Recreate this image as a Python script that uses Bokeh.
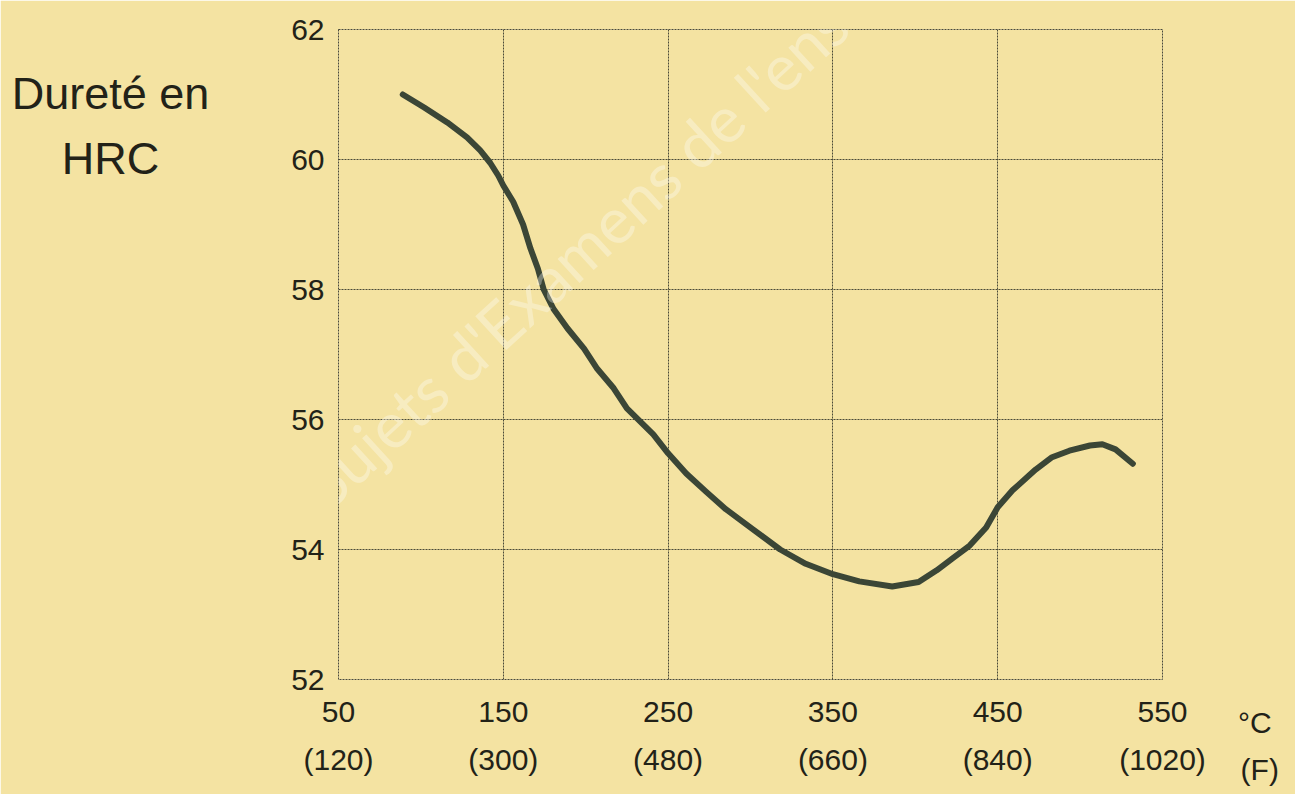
import re
from bokeh.plotting import figure
from bokeh.models import Range1d, FixedTicker, LinearAxis, Label
from bokeh.embed import file_html
from bokeh.resources import INLINE

# ---- data ----
temp_c = [89, 102, 116, 128, 136, 142, 147, 150, 156, 162, 166.5, 171, 174.5, 180.5, 189, 199,
          207, 217, 225, 241, 250, 261, 273, 285, 301.5, 318, 333.5, 350, 366, 386, 402, 413,
          423, 433, 443, 450, 459, 473, 483, 493.5, 506, 513.5, 521.5, 532]
hrc = [61.0, 60.8, 60.57, 60.34, 60.14, 59.95, 59.75, 59.6, 59.35, 59.0, 58.63, 58.32, 58.0, 57.7,
       57.4, 57.09, 56.78, 56.48, 56.17, 55.77, 55.48, 55.17, 54.89, 54.62, 54.31, 54.0, 53.78,
       53.62, 53.51, 53.43, 53.5, 53.68, 53.87, 54.06, 54.34, 54.65, 54.91, 55.23, 55.42, 55.52,
       55.6, 55.62, 55.54, 55.32]

x_ticks_c = [50, 150, 250, 350, 450, 550]
x_ticks_f = ["(120)", "(300)", "(480)", "(660)", "(840)", "(1020)"]
y_ticks = [52, 54, 56, 58, 60, 62]

BG = "#f4e3a2"
INK = "#222218"
FONT = "Liberation Sans"
GRID = "#4a4a38"

p = figure(width=1295, height=794, output_backend="svg", toolbar_location=None,
           x_range=Range1d(50, 550), y_range=Range1d(52, 62),
           x_axis_location=None, y_axis_location=None,
           min_border_left=338, min_border_right=133, min_border_top=29, min_border_bottom=115)
p.background_fill_color = BG
p.border_fill_color = BG
p.outline_line_color = GRID
p.outline_line_dash = "2 1"
p.outline_line_width = 1

# y axis
yax = LinearAxis(ticker=FixedTicker(ticks=y_ticks))
yax.axis_line_color = None
yax.major_tick_line_color = None
yax.minor_tick_line_color = None
yax.major_label_standoff = 8
yax.major_label_text_font = FONT
yax.major_label_text_font_size = "30px"
yax.major_label_text_color = INK
p.add_layout(yax, "left")

# x axis: Celsius
xax = LinearAxis(ticker=FixedTicker(ticks=x_ticks_c))
xax.axis_line_color = None
xax.major_tick_line_color = None
xax.minor_tick_line_color = None
xax.major_label_standoff = 16
xax.major_label_text_font = FONT
xax.major_label_text_font_size = "30px"
xax.major_label_text_color = INK
p.add_layout(xax, "below")

# x axis: Fahrenheit
xax2 = LinearAxis(ticker=FixedTicker(ticks=x_ticks_c))
xax2.major_label_overrides = {c: f for c, f in zip(x_ticks_c, x_ticks_f)}
xax2.axis_line_color = None
xax2.major_tick_line_color = None
xax2.minor_tick_line_color = None
xax2.major_label_standoff = 12
xax2.major_label_text_font = FONT
xax2.major_label_text_font_size = "30px"
xax2.major_label_text_color = INK
p.add_layout(xax2, "below")

# grid
p.xgrid.ticker = FixedTicker(ticks=x_ticks_c)
p.ygrid.ticker = FixedTicker(ticks=y_ticks)
for g in (p.xgrid[0], p.ygrid[0]):
    g.grid_line_color = GRID
    g.grid_line_dash = "2 1"
    g.grid_line_width = 1

# curve
p.line(temp_c, hrc, line_color="#3b4636", line_width=6, line_cap="round", line_join="round")

# watermark (faint, inside the frame)
wm = Label(x=-433, y=-188, x_units="screen", y_units="screen",
           text="Base Nationale des Sujets d'Examens de l'enseignement professionnel",
           text_font="Lato", text_font_size="64px", text_color="white", text_alpha=0.33,
           angle=42.5, angle_units="deg", text_align="left", text_baseline="alphabetic")
p.add_layout(wm)

# texts outside the frame, placed in side panels (data units through the plot's scales);
# the panels are chosen only so that their summed widths stay inside the borders
def lab(text, x, y, size, side, baseline="alphabetic"):
    l = Label(x=x, y=y, x_units="data", y_units="data", text=text,
              text_font=FONT, text_font_size=size, text_color=INK,
              text_align="center", text_baseline=baseline)
    p.add_layout(l, side)
    return l

lab("Dureté en", -88.3, 61.02, "45px", "left")
lab("HRC", -88.3, 60.01, "45px", "right")
lab("°C", 606, 51.34, "30px", "left", baseline="middle")
lab("(F)", 609, 50.62, "30px", "left", baseline="middle")

html = file_html(p, INLINE)
html = re.sub(r"<body([^>]*)>", r'<body\1 style="background-color:%s;">' % BG, html, count=1)
open("out.html", "w").write(html)
